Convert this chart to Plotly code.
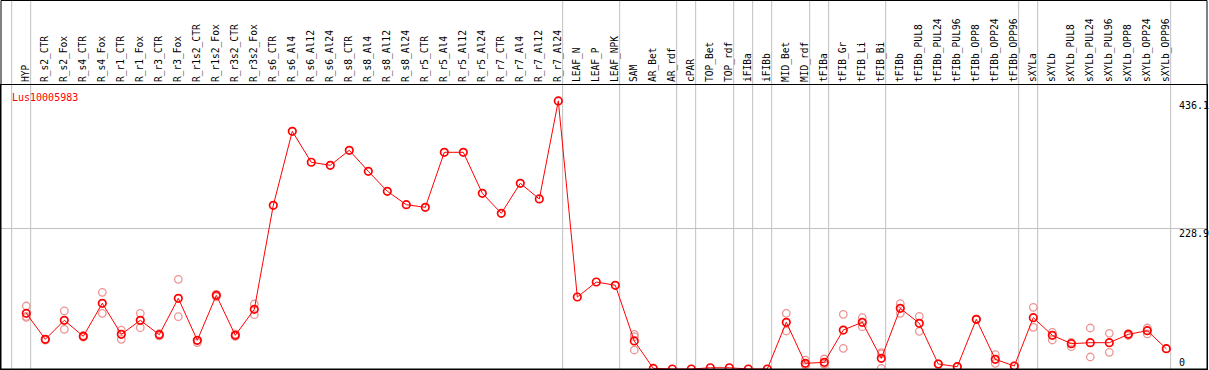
import plotly.graph_objects as go

categories = [
    "HYP", "R_s2_CTR", "R_s2_Fox", "R_s4_CTR", "R_s4_Fox", "R_r1_CTR", "R_r1_Fox",
    "R_r3_CTR", "R_r3_Fox", "R_r1s2_CTR", "R_r1s2_Fox", "R_r3s2_CTR", "R_r3s2_Fox",
    "R_s6_CTR", "R_s6_Al4", "R_s6_Al12", "R_s6_Al24", "R_s8_CTR", "R_s8_Al4",
    "R_s8_Al12", "R_s8_Al24", "R_r5_CTR", "R_r5_Al4", "R_r5_Al12", "R_r5_Al24",
    "R_r7_CTR", "R_r7_Al4", "R_r7_Al12", "R_r7_Al24", "LEAF_N", "LEAF_P", "LEAF_NPK",
    "SAM", "AR_Bet", "AR_rdf", "cPAR", "TOP_Bet", "TOP_rdf", "iFIBa", "iFIBb",
    "MID_Bet", "MID_rdf", "tFIBa", "tFIB_Gr", "tFIB_Li", "tFIB_Bi", "tFIBb",
    "tFIBb_PUL8", "tFIBb_PUL24", "tFIBb_PUL96", "tFIBb_OPP8", "tFIBb_OPP24",
    "tFIBb_OPP96", "sXYLa", "sXYLb", "sXYLb_PUL8", "sXYLb_PUL24", "sXYLb_PUL96",
    "sXYLb_OPP8", "sXYLb_OPP24", "sXYLb_OPP96",
]

mean_values = [
    90.6, 48.3, 79.2, 53.2, 106.9, 56.4, 79.2, 55.8, 115.0, 46.7, 119.9, 54.8, 97.1,
    266.3, 386.7, 336.3, 331.4, 355.8, 321.6, 289.1, 267.3, 263.0, 352.5, 352.5, 285.8,
    253.3, 302.1, 276.6, 436.1, 117.1, 141.5, 136.2,
    45.6, 1.0, 0.0, 0.0, 2.0, 2.0, 0.0, 0.0,
    76.0, 9.2, 10.8, 63.4, 76.0, 17.4, 98.7,
    74.3, 8.1, 3.8, 80.8, 15.7, 4.9,
    83.5, 54.8, 41.2, 42.8, 42.8, 56.4, 62.3, 33.0,
]

rep_categories = [
    "HYP", "HYP", "HYP", "R_s2_CTR", "R_s2_CTR", "R_s2_Fox", "R_s2_Fox",
    "R_s4_CTR", "R_s4_CTR", "R_s4_Fox", "R_s4_Fox", "R_r1_CTR", "R_r1_CTR",
    "R_r1_Fox", "R_r1_Fox", "R_r3_CTR", "R_r3_CTR", "R_r3_Fox", "R_r3_Fox",
    "R_r1s2_CTR", "R_r1s2_CTR", "R_r1s2_Fox", "R_r1s2_Fox", "R_r3s2_CTR", "R_r3s2_CTR",
    "R_r3s2_Fox", "R_r3s2_Fox",
    "SAM", "SAM", "SAM", "MID_Bet", "MID_Bet", "MID_rdf", "MID_rdf", "MID_rdf",
    "tFIBa", "tFIBa", "tFIBa", "tFIB_Gr", "tFIB_Gr", "tFIB_Li", "tFIB_Li",
    "tFIB_Bi", "tFIB_Bi", "tFIB_Bi", "tFIBb", "tFIBb", "tFIBb_PUL8", "tFIBb_PUL8",
    "tFIBb_PUL24", "tFIBb_PUL24", "tFIBb_PUL96", "tFIBb_OPP8", "tFIBb_OPP8",
    "tFIBb_OPP24", "tFIBb_OPP24", "tFIBb_OPP96", "sXYLa", "sXYLa", "sXYLb", "sXYLb",
    "sXYLb_PUL8", "sXYLb_PUL8", "sXYLb_PUL24", "sXYLb_PUL24", "sXYLb_PUL96",
    "sXYLb_PUL96", "sXYLb_OPP8", "sXYLb_OPP8", "sXYLb_OPP24", "sXYLb_OPP24",
    "sXYLb_OPP96",
]
rep_values = [
    102.5, 84.1, 85.5, 48.3, 47.0, 94.4, 64.5,
    54.5, 52.0, 124.7, 90.6, 63.4, 48.3,
    90.6, 67.3, 57.5, 54.0, 145.9, 85.1,
    46.7, 43.0, 121.5, 117.5, 57.0, 53.0,
    105.7, 88.3,
    56.4, 52.6, 30.9, 90.6, 61.8, 14.6, 6.5, 6.5,
    16.3, 8.1, 8.0, 89.0, 33.6, 83.5, 68.8,
    26.5, 24.7, 1.0, 106.2, 90.6, 85.7, 61.3,
    8.1, 8.1, 3.8, 80.8, 80.8,
    23.3, 9.2, 4.9, 100.4, 67.8, 59.7, 47.2,
    43.4, 36.3, 66.7, 19.5, 58.1,
    27.2, 57.7, 54.5, 66.7, 57.0,
    33.0,
]

group_last = ["HYP", "R_r7_Al24", "LEAF_NPK", "AR_rdf", "cPAR", "TOP_rdf", "iFIBa",
              "iFIBb", "MID_rdf", "tFIBa", "tFIB_Bi", "tFIBb_OPP96", "sXYLa", "sXYLb_OPP96"]

ytick_vals = [0, 228.9, 436.1]
ytick_text = ["0", "228.9", "436.1"]
gene_name = "Lus10005983"

FONT = "DejaVu Sans Mono"
W, H = 1209, 370
ML, MR, MT, MB = 1, 2, 85, 1
plot_h = H - MT - MB
top_paper = 1 + MT / plot_h

idx = {c: i for i, c in enumerate(categories)}
x_main = list(range(len(categories)))
x_rep = [idx[c] for c in rep_categories]

fig = go.Figure()
fig.add_trace(go.Scatter(
    x=x_rep, y=rep_values, mode="markers",
    marker=dict(symbol="circle-open", size=7.5, color="#EE9494", line=dict(width=1.3, color="#EE9494")),
    hoverinfo="skip", showlegend=False,
))
fig.add_trace(go.Scatter(
    x=x_main, y=mean_values, mode="lines+markers",
    line=dict(color="#FF0000", width=1),
    marker=dict(symbol="circle-open", size=7.5, color="#FF0000", line=dict(width=1.7, color="#FF0000")),
    showlegend=False,
))

shapes = []
bounds = [-1] + [idx[c] for c in group_last]
for b in bounds:
    shapes.append(dict(type="line", xref="x", yref="paper", x0=b + 0.23, x1=b + 0.23,
                       y0=0, y1=top_paper, line=dict(color="#C0C0C0", width=1), layer="below"))
shapes.append(dict(type="rect", xref="paper", yref="paper", x0=0, x1=1, y0=0, y1=top_paper - 0.5 / plot_h,
                   line=dict(color="black", width=1), fillcolor="rgba(0,0,0,0)"))

annotations = [dict(xref="paper", yref="paper", x=9 / (W - ML - MR), y=(plot_h - 12) / plot_h,
                    text=gene_name, showarrow=False, xanchor="left", yanchor="middle",
                    font=dict(family=FONT, size=10, color="#FF0000"))]
for v, t in zip(ytick_vals, ytick_text):
    annotations.append(dict(xref="paper", yref="y", x=(1177 - ML) / (W - ML - MR), y=v, text=t,
                            showarrow=False, xanchor="left", yanchor="middle",
                            yshift=(7 if v == 0 else -5),
                            font=dict(family=FONT, size=10, color="black")))

x0px = 26.3
step = 19.0
xr = [(ML - x0px) / step, (W - MR - x0px) / step]

fig.update_layout(
    width=W, height=H,
    margin=dict(l=ML, r=MR, t=MT, b=MB, pad=0),
    paper_bgcolor="white", plot_bgcolor="white",
    shapes=shapes, annotations=annotations,
    xaxis=dict(range=xr, side="top", tickmode="array", tickvals=x_main, ticktext=categories,
               tickangle=-90, tickfont=dict(family=FONT, size=9.6, color="black"),
               showgrid=False, zeroline=False, showline=True, linecolor="black", linewidth=1,
               mirror=True, ticks=""),
    yaxis=dict(range=[0, 462], tickmode="array", tickvals=[228.9], showticklabels=False,
               showgrid=True, gridcolor="#C0C0C0", gridwidth=1, zeroline=False,
               showline=True, linecolor="black", linewidth=1, mirror=True, ticks=""),
    font=dict(family=FONT),
)

fig.write_html("out.html", config={"displayModeBar": False},
               post_script="document.body.style.margin='0px';")
